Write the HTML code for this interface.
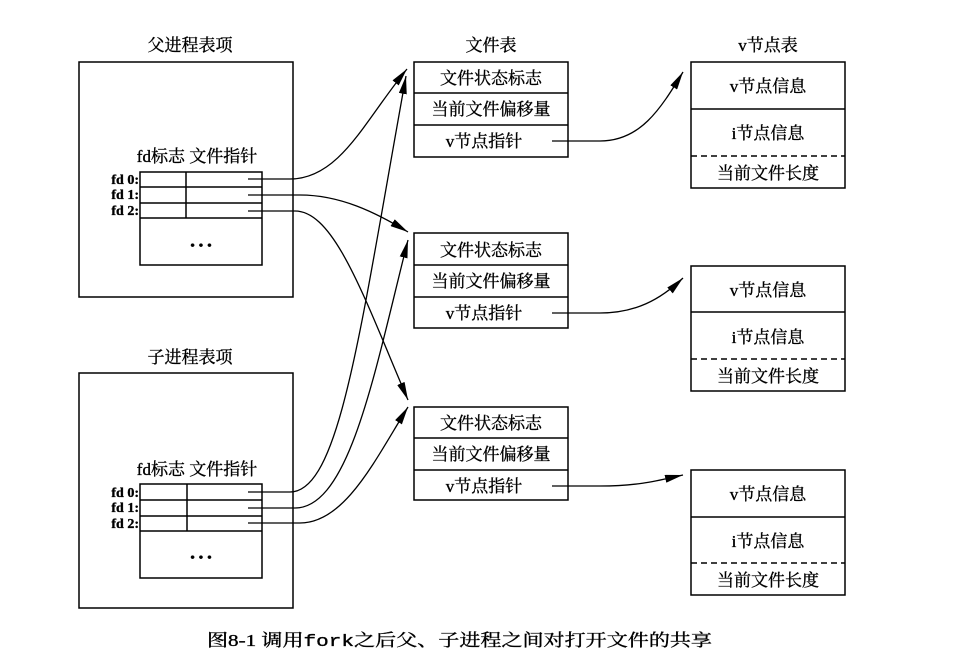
<!DOCTYPE html>
<html><head><meta charset="utf-8"><style>
html,body{margin:0;padding:0;background:#fff;}
svg{display:block;}
text{font-family:"Liberation Serif","Noto Serif CJK SC",serif;fill:#000;stroke:#000;stroke-width:0.35;}
</style></head><body>
<svg width="957" height="659" viewBox="0 0 957 659" xmlns="http://www.w3.org/2000/svg">
<defs>
<marker id="ah2" viewBox="0 0 10 10" refX="10" refY="5" markerWidth="18" markerHeight="8" markerUnits="userSpaceOnUse" orient="auto" preserveAspectRatio="none">
<path d="M0,0 L10,5 L0,10 z" fill="#000"/></marker>
</defs>
<g stroke="#000" stroke-width="1.5" fill="none">
<rect x="79" y="62" width="214" height="235"/>
<rect x="140" y="172" width="122" height="93"/>
<line x1="140" y1="187" x2="262" y2="187"/><line x1="140" y1="203" x2="262" y2="203"/><line x1="140" y1="218" x2="262" y2="218"/>
<line x1="186" y1="172" x2="186" y2="218"/>
<rect x="79" y="373" width="214" height="235"/>
<rect x="140" y="484" width="122" height="94"/>
<line x1="140" y1="500" x2="262" y2="500"/><line x1="140" y1="516" x2="262" y2="516"/><line x1="140" y1="531" x2="262" y2="531"/>
<line x1="187" y1="484" x2="187" y2="531"/>
<rect x="414" y="62" width="154" height="95"/><line x1="414" y1="93" x2="568" y2="93"/><line x1="414" y1="125" x2="568" y2="125"/>
<rect x="414" y="233" width="154" height="95"/><line x1="414" y1="265" x2="568" y2="265"/><line x1="414" y1="297" x2="568" y2="297"/>
<rect x="414" y="407" width="154" height="93"/><line x1="414" y1="438" x2="568" y2="438"/><line x1="414" y1="470" x2="568" y2="470"/>
<rect x="691" y="62" width="154" height="126"/><line x1="691" y1="109" x2="845" y2="109"/><line x1="691" y1="156" x2="845" y2="156" stroke-dasharray="6,4"/>
<rect x="691" y="266" width="154" height="125"/><line x1="691" y1="312" x2="845" y2="312"/><line x1="691" y1="359" x2="845" y2="359" stroke-dasharray="6,4"/>
<rect x="691" y="470" width="154" height="125"/><line x1="691" y1="517" x2="845" y2="517"/><line x1="691" y1="563" x2="845" y2="563" stroke-dasharray="6,4"/>
</g>
<g stroke="#000" stroke-width="1.3" fill="none" marker-end="url(#ah2)">
<path d="M248,179 L290,179 C340,179 365,120 407,69"/>
<path d="M248,195 L300,195 C340,195 375,212 408,232"/>
<path d="M248,211 L295,211 C335,211 365,300 408,400"/>
<path d="M248,492 L290,492 C340,492 360,330 406,76"/>
<path d="M248,508 L295,508 C350,508 375,370 408,240"/>
<path d="M248,523 L300,523 C345,523 375,460 408,407"/>
<path d="M552,141 L600,141 C640,141 660,110 683,72"/>
<path d="M552,313 L600,313 C635,313 660,300 683,278"/>
<path d="M552,486 L600,486 C640,486 660,480 683,475"/>
</g>
<g font-size="17" text-anchor="middle">
<text x="190" y="51">父进程表项</text>
<text x="190" y="363">子进程表项</text>
<text x="491" y="51">文件表</text>
<text x="768" y="51">v节点表</text>
<text x="197" y="162">fd标志 文件指针</text>
<text x="197" y="475">fd标志 文件指针</text>
<text x="201" y="250" font-size="14">• • •</text>
<text x="201" y="562" font-size="14">• • •</text>
<text x="491" y="84">文件状态标志</text><text x="491" y="115">当前文件偏移量</text><text x="484" y="147">v节点指针</text>
<text x="491" y="256">文件状态标志</text><text x="491" y="287">当前文件偏移量</text><text x="484" y="319">v节点指针</text>
<text x="491" y="429">文件状态标志</text><text x="491" y="460">当前文件偏移量</text><text x="484" y="492">v节点指针</text>
<text x="768" y="92">v节点信息</text><text x="768" y="139">i节点信息</text><text x="768" y="179">当前文件长度</text>
<text x="768" y="296">v节点信息</text><text x="768" y="343">i节点信息</text><text x="768" y="382">当前文件长度</text>
<text x="768" y="500">v节点信息</text><text x="768" y="547">i节点信息</text><text x="768" y="586">当前文件长度</text>
</g>
<text x="207" y="646" font-size="17" textLength="505" lengthAdjust="spacingAndGlyphs">图8-1  调用<tspan font-family="Liberation Mono, monospace">fork</tspan>之后父、子进程之间对打开文件的共享</text>
<g font-size="14" font-weight="bold" text-anchor="end">
<text x="139" y="184">fd 0:</text><text x="139" y="199">fd 1:</text><text x="139" y="215">fd 2:</text>
<text x="139" y="497">fd 0:</text><text x="139" y="512">fd 1:</text><text x="139" y="528">fd 2:</text>
</g>
</svg>
</body></html>
